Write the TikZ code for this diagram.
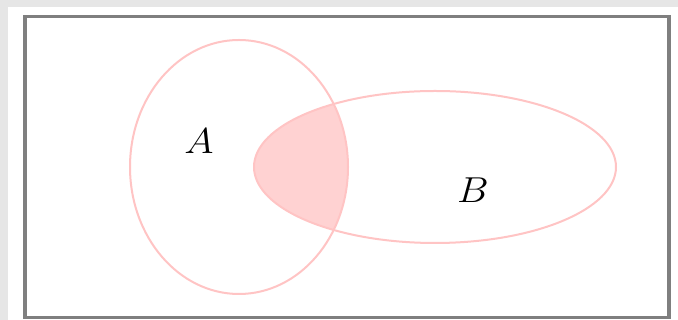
\documentclass[tikz,border=0pt]{standalone}
\begin{document}
\begin{tikzpicture}[x=1pt,y=1pt,
  venn/.style={draw=pinkline,line width=2pt},
  lbl/.style={font=\Huge,inner sep=0pt,xscale=1.6,yscale=1.45}]
\definecolor{pinkline}{HTML}{FFC4C4}
\definecolor{pinkfill}{HTML}{FFD2D2}
\definecolor{bggray}{HTML}{E6E6E6}
\definecolor{framegray}{HTML}{7F7F7F}
\useasboundingbox (0,0) rectangle (678,320);
\fill[bggray] (0,0) rectangle (678,320);
\fill[white] (8,0) rectangle (678,313);
\draw[framegray,line width=3.5pt] (25,2.5) rectangle (669,303.5);
\begin{scope}
  \clip (239,153) ellipse [x radius=109, y radius=127];
  \fill[pinkfill] (435,153) ellipse [x radius=181, y radius=76];
\end{scope}
\draw[venn] (239,153) ellipse [x radius=109, y radius=127];
\draw[venn] (435,153) ellipse [x radius=181, y radius=76];
\node[lbl] (A) at (199,179) {$A$};
\node[lbl] (B) at (473,130) {$B$};
\end{tikzpicture}
\end{document}
